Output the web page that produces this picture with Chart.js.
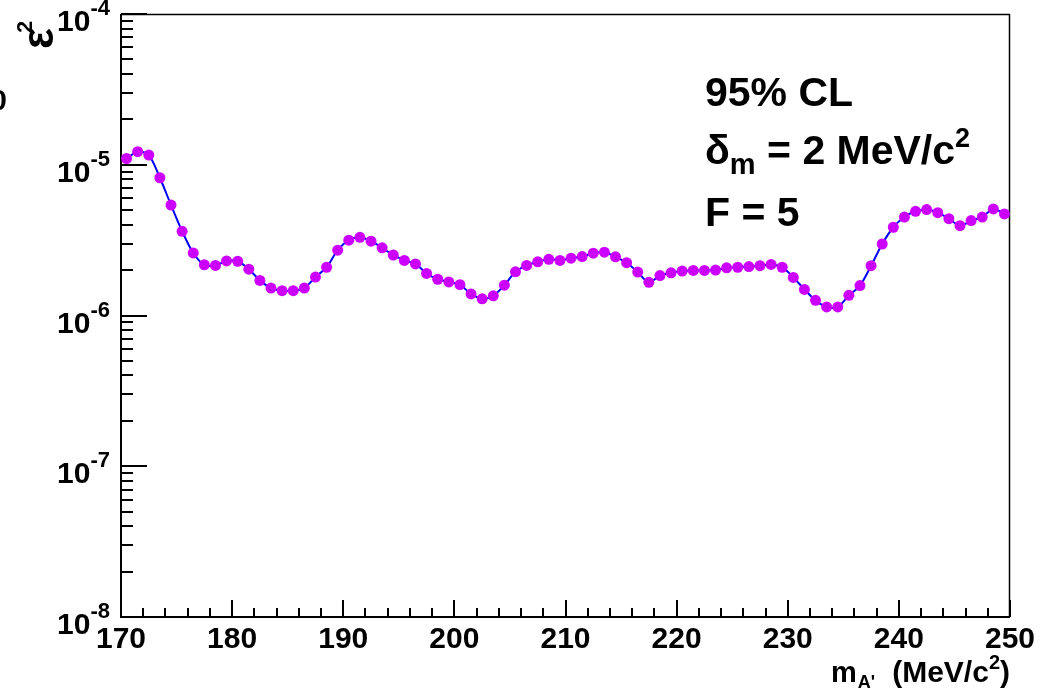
<!DOCTYPE html>
<html>
<head>
<meta charset="utf-8">
<script src="https://cdn.jsdelivr.net/npm/chart.js@4.4.1/dist/chart.umd.min.js"></script>
<style>
  html, body { margin: 0; padding: 0; background: #fff; }
  #wrap { width: 1044px; height: 689px; position: relative; overflow: hidden; }
  canvas { display: block; }
</style>
</head>
<body>
<div id="wrap"><canvas id="c" width="1044" height="689"></canvas></div>
<script>
// ---- data ----
const masses = [
  170.5, 171.5, 172.5, 173.5, 174.5, 175.5, 176.5, 177.5, 178.5, 179.5,
  180.5, 181.5, 182.5, 183.5, 184.5, 185.5, 186.5, 187.5, 188.5, 189.5,
  190.5, 191.5, 192.5, 193.5, 194.5, 195.5, 196.5, 197.5, 198.5, 199.5,
  200.5, 201.5, 202.5, 203.5, 204.5, 205.5, 206.5, 207.5, 208.5, 209.5,
  210.5, 211.5, 212.5, 213.5, 214.5, 215.5, 216.5, 217.5, 218.5, 219.5,
  220.5, 221.5, 222.5, 223.5, 224.5, 225.5, 226.5, 227.5, 228.5, 229.5,
  230.5, 231.5, 232.5, 233.5, 234.5, 235.5, 236.5, 237.5, 238.5, 239.5,
  240.5, 241.5, 242.5, 243.5, 244.5, 245.5, 246.5, 247.5, 248.5, 249.5
];
const eps2Limit = [
  1.10e-5, 1.22e-5, 1.16e-5, 8.2e-6, 5.4e-6, 3.62e-6, 2.60e-6, 2.17e-6, 2.15e-6, 2.30e-6,
  2.29e-6, 2.03e-6, 1.71e-6, 1.52e-6, 1.46e-6, 1.46e-6, 1.52e-6, 1.80e-6, 2.09e-6, 2.71e-6,
  3.16e-6, 3.30e-6, 3.11e-6, 2.81e-6, 2.52e-6, 2.32e-6, 2.20e-6, 1.90e-6, 1.74e-6, 1.67e-6,
  1.60e-6, 1.39e-6, 1.29e-6, 1.35e-6, 1.59e-6, 1.95e-6, 2.15e-6, 2.27e-6, 2.36e-6, 2.32e-6,
  2.40e-6, 2.46e-6, 2.59e-6, 2.63e-6, 2.45e-6, 2.24e-6, 1.94e-6, 1.66e-6, 1.84e-6, 1.92e-6,
  1.97e-6, 1.99e-6, 1.99e-6, 2.00e-6, 2.07e-6, 2.09e-6, 2.11e-6, 2.14e-6, 2.18e-6, 2.09e-6,
  1.79e-6, 1.49e-6, 1.26e-6, 1.14e-6, 1.14e-6, 1.36e-6, 1.58e-6, 2.14e-6, 2.98e-6, 3.85e-6,
  4.50e-6, 4.91e-6, 5.04e-6, 4.81e-6, 4.39e-6, 3.94e-6, 4.26e-6, 4.50e-6, 5.09e-6, 4.72e-6
];
const xTickLabels = [170, 180, 190, 200, 210, 220, 230, 240, 250];
const xMinorTicks = [172, 174, 176, 178, 182, 184, 186, 188, 192, 194, 196, 198, 202, 204, 206, 208,
                     212, 214, 216, 218, 222, 224, 226, 228, 232, 234, 236, 238, 242, 244, 246, 248];
const yTickExponents = [-8, -7, -6, -5, -4];
const yMinorMantissas = [2, 3, 4, 5, 6, 7, 8, 9];

const FONT = '"Liberation Sans", Arial, Helvetica, sans-serif';

const rootAxes = {
  id: 'rootAxes',
  beforeDatasetsDraw(chart) {
    const ctx = chart.ctx, a = chart.chartArea;
    const xs = chart.scales.x, ys = chart.scales.y;
    ctx.save();
    ctx.strokeStyle = '#000';
    // frame
    ctx.lineWidth = 1.5;
    ctx.beginPath();
    ctx.moveTo(a.left, a.top + 0.5); ctx.lineTo(a.right, a.top + 0.5);
    ctx.moveTo(a.right - 0.5, a.top); ctx.lineTo(a.right - 0.5, a.bottom);
    ctx.stroke();
    ctx.lineWidth = 2;
    ctx.beginPath();
    ctx.moveTo(a.left, a.top); ctx.lineTo(a.left, a.bottom);
    ctx.moveTo(a.left - 1, a.bottom); ctx.lineTo(a.right, a.bottom);
    ctx.stroke();
    // x ticks
    ctx.lineWidth = 2;
    ctx.beginPath();
    xTickLabels.forEach(v => {
      const px = Math.round(xs.getPixelForValue(v));
      ctx.moveTo(px, a.bottom); ctx.lineTo(px, a.bottom - 17);
    });
    xMinorTicks.forEach(v => {
      const px = Math.round(xs.getPixelForValue(v));
      ctx.moveTo(px, a.bottom); ctx.lineTo(px, a.bottom - 9);
    });
    ctx.stroke();
    // y ticks
    ctx.beginPath();
    yTickExponents.forEach((e, i) => {
      const py = Math.round(ys.getPixelForValue(Math.pow(10, e)));
      ctx.moveTo(a.left, py); ctx.lineTo(a.left + 26, py);
      if (i < yTickExponents.length - 1) {
        yMinorMantissas.forEach(m => {
          const q = Math.round(ys.getPixelForValue(m * Math.pow(10, e)));
          ctx.moveTo(a.left, q); ctx.lineTo(a.left + 12, q);
        });
      }
    });
    ctx.stroke();
    ctx.restore();
  },
  afterDraw(chart) {
    const ctx = chart.ctx, a = chart.chartArea;
    const xs = chart.scales.x, ys = chart.scales.y;
    ctx.save();
    ctx.fillStyle = '#000';
    ctx.textBaseline = 'alphabetic';
    // x tick labels
    ctx.font = 'bold 30px ' + FONT;
    ctx.textAlign = 'center';
    xTickLabels.forEach(v => {
      ctx.fillText(String(v), xs.getPixelForValue(v), 648);
    });
    // y tick labels 10^e
    yTickExponents.forEach(e => {
      const py = ys.getPixelForValue(Math.pow(10, e));
      ctx.textAlign = 'right';
      ctx.font = 'bold 22px ' + FONT;
      const sup = String(e);
      const supW = ctx.measureText(sup).width;
      ctx.fillText(sup, 110, py + 1);
      ctx.font = 'bold 30px ' + FONT;
      ctx.fillText('10', 110 - supW, py + 17);
    });
    // x axis title: m_A' (MeV/c^2), right aligned at plot edge
    ctx.textAlign = 'left';
    const by = 682;
    ctx.font = 'bold 29px ' + FONT;
    ctx.fillText('m', 831, by);
    let x = 831 + ctx.measureText('m').width;
    ctx.font = 'bold 18px ' + FONT;
    ctx.fillText("A'", x + 1, by + 6);
    // right-hand part
    ctx.font = 'bold 30px ' + FONT;
    const wOpen = ctx.measureText('(MeV/c').width;
    const wClose = ctx.measureText(')').width;
    ctx.font = 'bold 20px ' + FONT;
    const wSup = ctx.measureText('2').width;
    let rx = 1011 - wOpen - wSup - wClose + 3;
    ctx.font = 'bold 30px ' + FONT;
    ctx.fillText('(', rx - 4, by); 
    ctx.fillText('MeV/c', rx - 4 + ctx.measureText('(').width, by); rx += wOpen - 4;
    ctx.font = 'bold 20px ' + FONT;
    ctx.fillText('2', rx, by - 13); rx += wSup;
    ctx.font = 'bold 30px ' + FONT;
    ctx.fillText(')', rx, by);
    // y axis title: epsilon^2 (rotated)
    ctx.save();
    ctx.translate(53, 49);
    ctx.rotate(-Math.PI / 2);
    ctx.font = 'bold 44px ' + FONT;
    ctx.fillText('\u03b5', 0, 0);
    const ew = ctx.measureText('\u03b5').width;
    ctx.font = 'bold 22px ' + FONT;
    ctx.fillText('2', ew - 5, -21);
    ctx.restore();
    // clipped glyph at left edge
    ctx.font = 'bold 30px ' + FONT;
    ctx.textAlign = 'right';
    ctx.fillText('0', 7, 110);
    // annotation text
    ctx.textAlign = 'left';
    ctx.font = 'bold 41px ' + FONT;
    ctx.fillText('95% CL', 705, 106);
    let tx = 705;
    ctx.fillText('\u03b4', tx, 164); tx += ctx.measureText('\u03b4').width;
    ctx.font = 'bold 29px ' + FONT;
    ctx.fillText('m', tx, 174); tx += ctx.measureText('m').width;
    ctx.font = 'bold 41px ' + FONT;
    const mid = ' = 2 MeV/c';
    ctx.fillText(mid, tx, 164); tx += ctx.measureText(mid).width;
    ctx.font = 'bold 27px ' + FONT;
    ctx.fillText('2', tx, 147);
    ctx.font = 'bold 41px ' + FONT;
    ctx.fillText('F = 5', 705, 226);
    ctx.restore();
  }
};

const points = masses.map((m, i) => ({ x: m, y: eps2Limit[i] }));

new Chart(document.getElementById('c'), {
  type: 'line',
  data: {
    datasets: [{
      label: 'eps2',
      data: points,
      borderColor: '#0000ff',
      borderWidth: 2,
      tension: 0.3,
      pointRadius: 5.5,
      pointHoverRadius: 5.5,
      pointBackgroundColor: '#cc00ff',
      pointBorderColor: '#cc00ff',
      pointBorderWidth: 0,
      clip: false,
      fill: false
    }]
  },
  options: {
    responsive: false,
    animation: false,
    events: [],
    layout: { padding: { left: 121, right: 34, top: 14, bottom: 72 } },
    plugins: { legend: { display: false }, tooltip: { enabled: false }, title: { display: false } },
    scales: {
      x: { type: 'linear', min: 170, max: 250, display: false },
      y: { type: 'logarithmic', min: 1e-8, max: 1e-4, display: false }
    }
  },
  plugins: [rootAxes]
});
</script>
</body>
</html>
